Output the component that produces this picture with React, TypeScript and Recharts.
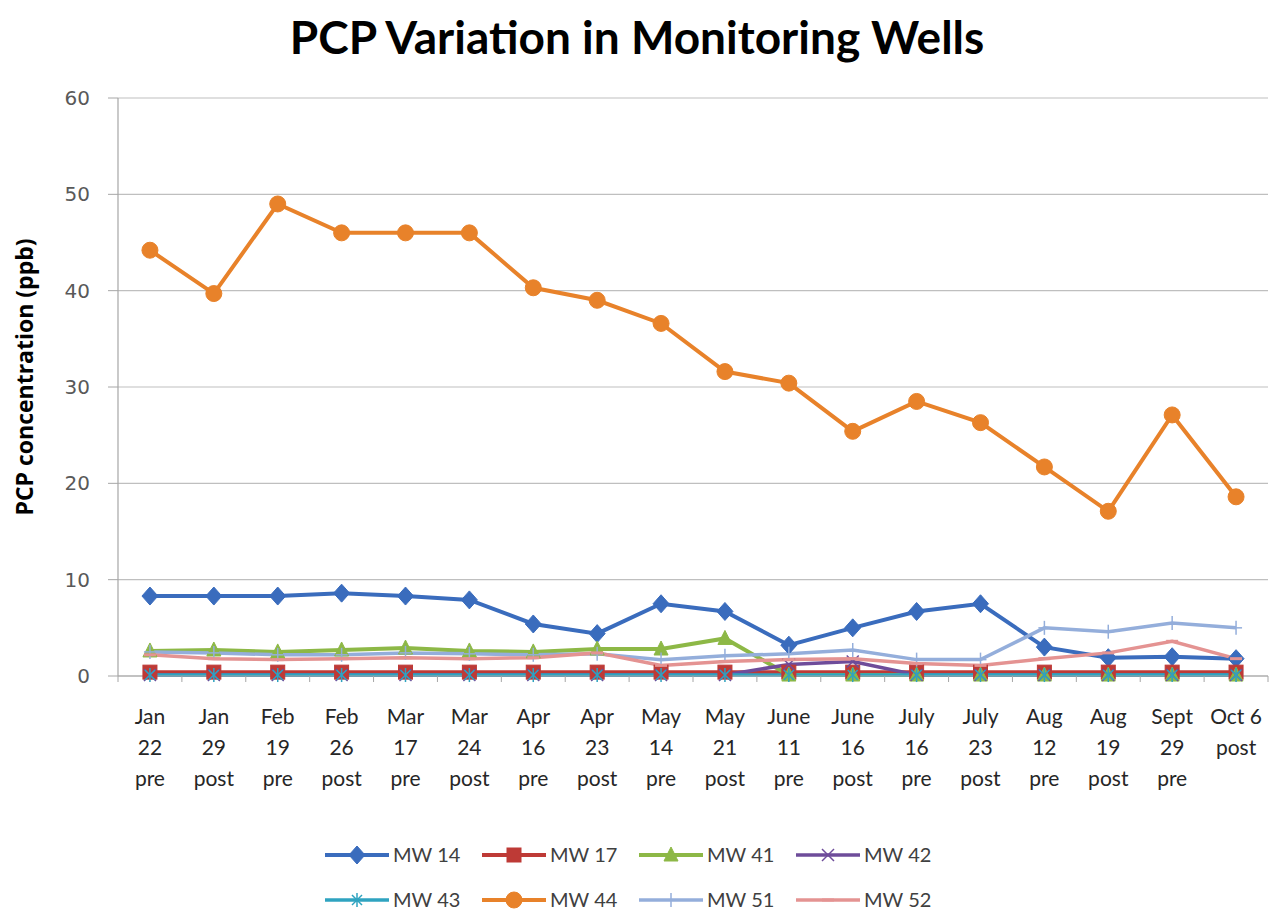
import React from "react";
import { LineChart, Line, XAxis, YAxis, CartesianGrid } from "recharts";

const categories = [
  "Jan\n22\npre", "Jan\n29\npost", "Feb\n19\npre", "Feb\n26\npost", "Mar\n17\npre", "Mar\n24\npost",
  "Apr\n16\npre", "Apr\n23\npost", "May\n14\npre", "May\n21\npost", "June\n11\npre", "June\n16\npost",
  "July\n16\npre", "July\n23\npost", "Aug\n12\npre", "Aug\n19\npost", "Sept\n29\npre", "Oct 6\npost",
];

const mw14 = [8.3, 8.3, 8.3, 8.6, 8.3, 7.9, 5.4, 4.4, 7.5, 6.7, 3.2, 5.0, 6.7, 7.5, 3.0, 1.9, 2.0, 1.8];
const mw17 = [0.4, 0.4, 0.4, 0.4, 0.4, 0.4, 0.4, 0.4, 0.4, 0.4, 0.4, 0.4, 0.4, 0.4, 0.4, 0.4, 0.4, 0.4];
const mw41 = [2.6, 2.7, 2.5, 2.7, 2.9, 2.6, 2.5, 2.8, 2.8, 3.9, 0.1, 0.1, 0.1, 0.1, 0.1, 0.1, 0.1, 0.1];
const mw42 = [0.1, 0.1, 0.1, 0.1, 0.1, 0.1, 0.1, 0.1, 0.1, 0.1, 1.2, 1.5, 0.1, 0.1, 0.1, 0.1, 0.1, 0.1];
const mw43 = [0.1, 0.1, 0.1, 0.1, 0.1, 0.1, 0.1, 0.1, 0.1, 0.1, 0.1, 0.1, 0.1, 0.1, 0.1, 0.1, 0.1, 0.1];
const mw44 = [44.2, 39.7, 49.0, 46.0, 46.0, 46.0, 40.3, 39.0, 36.6, 31.6, 30.4, 25.4, 28.5, 26.3, 21.7, 17.1, 27.1, 18.6];
const mw51 = [2.5, 2.4, 2.2, 2.2, 2.4, 2.3, 2.2, 2.3, 1.7, 2.1, 2.3, 2.7, 1.7, 1.7, 5.0, 4.6, 5.5, 5.0];
const mw52 = [2.2, 1.8, 1.7, 1.8, 1.9, 1.8, 1.9, 2.4, 1.1, 1.5, 1.7, 1.8, 1.3, 1.1, 1.8, 2.4, 3.6, 1.8];

const yTicks = [0, 10, 20, 30, 40, 50, 60];

const seriesNames = ["MW 14", "MW 17", "MW 41", "MW 42", "MW 43", "MW 44", "MW 51", "MW 52"];
const seriesKeys = ["mw14", "mw17", "mw41", "mw42", "mw43", "mw44", "mw51", "mw52"];
const seriesColors = ["#3A6CBD", "#BE3A36", "#8DB846", "#6E4C9A", "#2FA3C0", "#E8822A", "#94AEDB", "#E49392"];
const seriesMarkers = ["diamond", "square", "triangle", "x", "star", "circle", "plus", "dash"];
const seriesWidths = [4, 4, 4, 3.5, 3.5, 4, 3.5, 3.5];

const data = categories.map((c, i) => ({
  cat: c,
  mw14: mw14[i], mw17: mw17[i], mw41: mw41[i], mw42: mw42[i],
  mw43: mw43[i], mw44: mw44[i], mw51: mw51[i], mw52: mw52[i],
}));

const FONT = "Lato, 'Open Sans', sans-serif";
const CHART_W = 1272;
const PLOT_LEFT = 118;
const PLOT_RIGHT = CHART_W - 4;
const HALF_BAND = (PLOT_RIGHT - PLOT_LEFT) / categories.length / 2;

function Marker({ kind, cx, cy, color }: { kind: string; cx: number; cy: number; color: string }) {
  if (cx == null || cy == null) return null;
  switch (kind) {
    case "diamond":
      return <polygon points={`${cx},${cy - 9} ${cx + 8},${cy} ${cx},${cy + 9} ${cx - 8},${cy}`} fill={color} stroke={color} strokeWidth={1} />;
    case "square":
      return <rect x={cx - 7} y={cy - 7} width={14} height={14} fill={color} stroke={color} />;
    case "triangle":
      return <polygon points={`${cx},${cy - 8} ${cx + 7},${cy + 6} ${cx - 7},${cy + 6}`} fill={color} stroke={color} />;
    case "x":
      return (
        <g stroke={color} strokeWidth={1.5}>
          <line x1={cx - 6} y1={cy - 6} x2={cx + 6} y2={cy + 6} />
          <line x1={cx - 6} y1={cy + 6} x2={cx + 6} y2={cy - 6} />
        </g>
      );
    case "star":
      return (
        <g stroke={color} strokeWidth={1.5}>
          <line x1={cx - 5} y1={cy - 5} x2={cx + 5} y2={cy + 5} />
          <line x1={cx - 5} y1={cy + 5} x2={cx + 5} y2={cy - 5} />
          <line x1={cx} y1={cy - 7} x2={cx} y2={cy + 7} />
        </g>
      );
    case "circle":
      return <circle cx={cx} cy={cy} r={8} fill={color} stroke={color} />;
    case "plus":
      return (
        <g stroke={color} strokeWidth={1.5}>
          <line x1={cx - 6} y1={cy} x2={cx + 6} y2={cy} />
          <line x1={cx} y1={cy - 7} x2={cx} y2={cy + 7} />
        </g>
      );
    case "dash":
      return <line x1={cx - 6} y1={cy} x2={cx + 6} y2={cy} stroke={color} strokeWidth={3} />;
    default:
      return null;
  }
}

function CatTick(props: any) {
  const { x, y, payload, index } = props;
  const lines = String(payload.value).split("\n");
  const last = index === categories.length - 1;
  return (
    <g>
      <line x1={x - HALF_BAND} y1={y} x2={x - HALF_BAND} y2={y + 6} stroke="#A6A6A6" strokeWidth={1} />
      {last && <line x1={x + HALF_BAND} y1={y} x2={x + HALF_BAND} y2={y + 6} stroke="#A6A6A6" strokeWidth={1} />}
      {lines.map((l, i) => (
        <text key={i} x={x} y={y + 48 + i * 31} textAnchor="middle" fontFamily={FONT} fontSize={21} fill="#262626">
          {l}
        </text>
      ))}
    </g>
  );
}

function Legend8() {
  return (
    <svg width={1272} height={90} style={{ position: "absolute", left: 0, top: 830 }}>
      {seriesNames.map((n, i) => {
        const row = Math.floor(i / 4);
        const col = i % 4;
        const base = 325 + col * 157;
        const cy = 25 + row * 45;
        return (
          <g key={n}>
            <line x1={base} y1={cy} x2={base + 64} y2={cy} stroke={seriesColors[i]} strokeWidth={seriesWidths[i]} />
            <Marker kind={seriesMarkers[i]} cx={base + 32} cy={cy} color={seriesColors[i]} />
            <text x={base + 68} y={cy + 7} fontFamily={FONT} fontSize={20} fill="#404040">{n}</text>
          </g>
        );
      })}
    </svg>
  );
}

export default function App() {
  return (
    <div style={{ position: "absolute", left: 0, top: 0, width: 1272, height: 915, background: "#fff" }}>
      <svg width={1272} height={80} style={{ position: "absolute", left: 0, top: 0 }}>
        <text x={637} y={54} textAnchor="middle" fontFamily={FONT} fontWeight={700} fontSize={46} fill="#000">
          PCP Variation in Monitoring Wells
        </text>
      </svg>
      <div style={{ position: "absolute", left: 0, top: 0 }}>
        <LineChart width={CHART_W} height={915} data={data} margin={{ top: 98, right: 4, left: 0, bottom: 0 }}>
          <CartesianGrid vertical={false} stroke="#BFBFBF" strokeWidth={1.2} />
          <XAxis
            dataKey="cat"
            interval={0}
            height={239}
            padding={{ left: HALF_BAND, right: HALF_BAND }}
            axisLine={{ stroke: "#A6A6A6", strokeWidth: 1.2 }}
            tickLine={false}
            tickSize={0}
            tickMargin={0}
            tick={<CatTick />}
          />
          <YAxis
            domain={[0, 60]}
            ticks={yTicks}
            width={PLOT_LEFT}
            axisLine={{ stroke: "#A6A6A6", strokeWidth: 1.2 }}
            tickLine={{ stroke: "#A6A6A6" }}
            tickSize={10}
            tickMargin={18}
            tick={{ fontFamily: "'DejaVu Sans', sans-serif", fontSize: 20, fill: "#595959" }}
            label={{
              content: () => (
                <text
                  x={0}
                  y={0}
                  transform="translate(33, 377) rotate(-90)"
                  textAnchor="middle"
                  fontFamily="'Open Sans', sans-serif"
                  fontWeight={700}
                  fontSize={23}
                  fill="#000"
                >
                  PCP concentration (ppb)
                </text>
              ),
            }}
          />
          {seriesKeys.map((k, i) => (
            <Line
              key={k}
              dataKey={k}
              name={seriesNames[i]}
              stroke={seriesColors[i]}
              strokeWidth={seriesWidths[i]}
              isAnimationActive={false}
              activeDot={false}
              dot={(p: any) => <Marker key={`${k}-${p.index}`} kind={seriesMarkers[i]} cx={p.cx} cy={p.cy} color={seriesColors[i]} />}
            />
          ))}
        </LineChart>
      </div>
      <Legend8 />
    </div>
  );
}
